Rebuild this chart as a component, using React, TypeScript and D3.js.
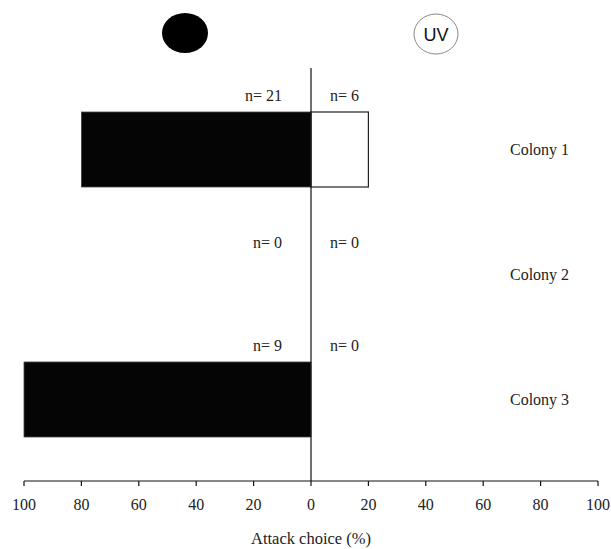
import React from "react";
import * as d3 from "d3";

const colonies = ["Colony 1", "Colony 2", "Colony 3"];
const darkValues = [80, 0, 100];
const uvValues = [20, 0, 0];
const darkN = [21, 0, 9];
const uvN = [6, 0, 0];
const tickValues = [-100, -80, -60, -40, -20, 0, 20, 40, 60, 80, 100];

const W = 611;
const H = 549;
const FONT = "'Liberation Serif', 'Times New Roman', serif";

export default function App() {
  const x = d3.scaleLinear().domain([-100, 100]).range([24, 598]);
  const y = d3.scaleBand<string>().domain(colonies).range([87, 462]).paddingInner(0.4).paddingOuter(0.2);
  const axisY = 481;
  const bw = y.bandwidth();

  return (
    <svg width={W} height={H} style={{ position: "absolute", left: 0, top: 0, background: "#fff" }}>
      {/* legend symbols */}
      <ellipse cx={185} cy={33} rx={23} ry={20} fill="#000" />
      <ellipse cx={436} cy={34} rx={22} ry={20} fill="#fff" stroke="#888" strokeWidth={1} />
      <text x={436} y={40.5} textAnchor="middle" fontFamily="'Liberation Sans', Arial, sans-serif" fontSize={18} fill="#111">UV</text>

      {colonies.map((c, i) => {
        const y0 = y(c)!;
        const hasBars = darkValues[i] > 0 || uvValues[i] > 0;
        const ly = hasBars ? y0 - 11 : y0 + 11;
        return (
          <g key={c}>
            {darkValues[i] > 0 && (
              <rect x={x(-darkValues[i])} y={y0} width={x(0) - x(-darkValues[i])} height={bw} fill="#050505" stroke="#444" strokeWidth={0.8} />
            )}
            {uvValues[i] > 0 && (
              <rect x={x(0)} y={y0} width={x(uvValues[i]) - x(0)} height={bw} fill="#fff" stroke="#222" strokeWidth={1.2} />
            )}
            <text x={282} y={ly} textAnchor="end" fontFamily={FONT} fontSize={16} fill="#222">{`n= ${darkN[i]}`}</text>
            <text x={330} y={ly} textAnchor="start" fontFamily={FONT} fontSize={16} fill="#222">{`n= ${uvN[i]}`}</text>
            <text x={510} y={y0 + bw / 2 + 5} fontFamily={FONT} fontSize={16} fill="#222">{c}</text>
          </g>
        );
      })}

      {/* center line */}
      <line x1={x(0)} x2={x(0)} y1={68} y2={axisY} stroke="#111" strokeWidth={1.2} />

      {/* axis */}
      <line x1={x(-100)} x2={x(100)} y1={axisY} y2={axisY} stroke="#111" strokeWidth={1.2} />
      {tickValues.map((t) => (
        <g key={t}>
          <line x1={x(t)} x2={x(t)} y1={axisY} y2={axisY + 5} stroke="#111" strokeWidth={1.2} />
          <text x={x(t)} y={axisY + 29} textAnchor="middle" fontFamily={FONT} fontSize={16} fill="#222">{Math.abs(t)}</text>
        </g>
      ))}
      <text x={x(0)} y={544} textAnchor="middle" fontFamily={FONT} fontSize={16.5} fill="#222">Attack choice (%)</text>
    </svg>
  );
}
